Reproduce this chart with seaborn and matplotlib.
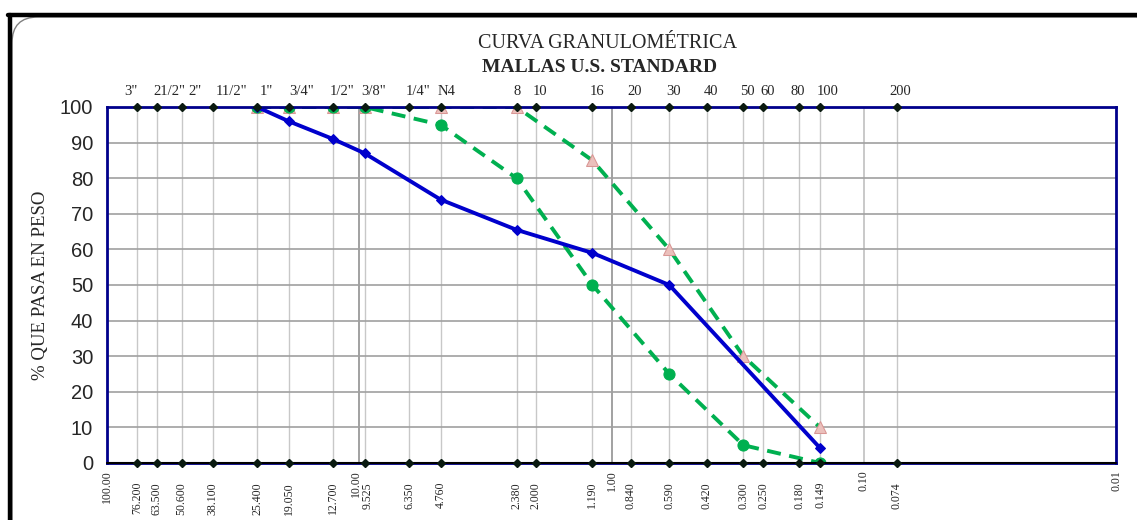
import numpy as np
import pandas as pd
import matplotlib
matplotlib.use("Agg")
import matplotlib.pyplot as plt
import matplotlib.transforms as mtransforms
from matplotlib.patches import FancyBboxPatch
from matplotlib.lines import Line2D
import seaborn as sns

# Sieve openings (mm) and their U.S. Standard names
sieve_mm = [76.2, 63.5, 50.6, 38.1, 25.4, 19.05, 12.7, 9.525, 6.35, 4.76,
            2.38, 2.0, 1.19, 0.84, 0.59, 0.42, 0.30, 0.25, 0.18, 0.149, 0.074]
sieve_names = ['3"', '21/2"', '2"', '11/2"', '1"', '3/4"', '1/2"', '3/8"', '1/4"', 'N4',
               '8', '10', '16', '20', '30', '40', '50', '60', '80', '100', '200']
sieve_ticklabels = ["76.200", "63.500", "50.600", "38.100", "25.400", "19.050", "12.700",
                    "9.525", "6.350", "4.760", "2.380", "2.000", "1.190", "0.840", "0.590",
                    "0.420", "0.300", "0.250", "0.180", "0.149", "0.074"]
decades = [100, 10, 1, 0.1, 0.01]
decade_labels = ["100.00", "10.00", "1.00", "0.10", "0.01"]

# Sample gradation
muestra_mm = [25.4, 19.05, 12.7, 9.525, 4.76, 2.38, 1.19, 0.59, 0.149]
muestra_pasa = [100, 96, 91, 87, 74, 65.5, 59, 50, 4.2]

# Specification band
limite_mm = [25.4, 19.05, 12.7, 9.525, 4.76, 2.38, 1.19, 0.59, 0.30, 0.149]
limite_inf = [100, 100, 100, 100, 95, 80, 50, 25, 5, 0]
limite_sup = [100, 100, 100, 100, 100, 100, 85, 60, 30, 10]

# horizontal nudges (pixels) for a few crowded labels
name_nudge = {'3"': -10, '2"': 10, '11/2"': 6, '1"': 6, '3/4"': 4, '80': -6, '200': -4}
size_nudge = {"10.00": -3, "9.525": 3}

sns.set_theme(style="white")
plt.rcParams["font.family"] = ["Liberation Serif", "DejaVu Serif"]

W, H = 1137, 520
fig = plt.figure(figsize=(W / 100, H / 100), dpi=100)
ax = fig.add_axes([107 / W, 1 - 463 / H, (1116 - 107) / W, (463 - 107) / H])

ax.set_xscale("log")
ax.set_xlim(100, 0.01)
ax.set_ylim(0, 100)

# grid
for x in sieve_mm:
    ax.axvline(x, color="#c8c8c8", lw=1.0, zorder=1)
for x in decades[1:3]:
    ax.axvline(x, color="#9a9a9a", lw=1.3, zorder=1)
ax.axvline(decades[3], color="#c0c0c0", lw=1.2, zorder=1)
for y in range(10, 100, 10):
    ax.axhline(y, color="#a0a0a0", lw=1.2, zorder=1)

green = "#00B050"
blue = "#0000CC"

df_inf = pd.DataFrame({"mm": limite_mm, "pasa": limite_inf})
df_sup = pd.DataFrame({"mm": limite_mm, "pasa": limite_sup})
df_mue = pd.DataFrame({"mm": muestra_mm, "pasa": muestra_pasa})

sns.lineplot(data=df_sup, x="mm", y="pasa", ax=ax, sort=False, estimator=None,
             color=green, lw=2.8, marker="^", markersize=9,
             markerfacecolor="#EBC0BC", markeredgecolor="#D99694", zorder=3)
ax.lines[-1].set_dashes((3.6, 2.2))
sns.lineplot(data=df_inf, x="mm", y="pasa", ax=ax, sort=False, estimator=None,
             color=green, lw=2.8, marker="o", markersize=8,
             markerfacecolor=green, markeredgecolor=green, zorder=3)
ax.lines[-1].set_dashes((3.6, 2.2))
sns.lineplot(data=df_mue, x="mm", y="pasa", ax=ax, sort=False, estimator=None,
             color=blue, lw=2.8, marker="D", markersize=5,
             markerfacecolor=blue, markeredgecolor=blue, zorder=4)

# sieve markers along the top and bottom edges
ax.plot([100, 0.01], [0, 0], color="black", lw=1.5, zorder=5, clip_on=False)
ax.plot(sieve_mm, [100] * len(sieve_mm), ls="none", marker="D", ms=4.5,
        color="#0a1a10", zorder=6, clip_on=False)
ax.plot(sieve_mm, [0] * len(sieve_mm), ls="none", marker="D", ms=4.5,
        color="#0a1a10", zorder=6, clip_on=False)

for side in ["left", "right", "top", "bottom"]:
    ax.spines[side].set_color("#00008B")
    ax.spines[side].set_linewidth(2)
    ax.spines[side].set_zorder(4)

ax.set_xticks([])
ax.set_xticks([], minor=True)
ax.set_yticks(range(0, 101, 10))
ax.tick_params(axis="y", length=0, pad=10, labelsize=14.5)
for t in ax.get_yticklabels():
    t.set_fontfamily("Liberation Sans")
ax.set_xlabel("")
ax.set_ylabel("% QUE PASA EN PESO", fontsize=13.5)
ax.yaxis.set_label_coords(-0.057, 0.5)

# sieve names above the plot
for x, name in zip(sieve_mm, sieve_names):
    tr = mtransforms.offset_copy(ax.transData, fig=fig, x=-3 + name_nudge.get(name, 0),
                                 y=9, units="dots")
    ax.text(x, 100, name, transform=tr, ha="left", va="bottom",
            fontsize=10.5, clip_on=False)

# opening sizes below the plot
for x, lab in zip(sieve_mm, sieve_ticklabels):
    tr = mtransforms.offset_copy(ax.transData, fig=fig, x=size_nudge.get(lab, 0),
                                 y=-19, units="dots")
    ax.text(x, 0, lab, transform=tr, ha="center", va="top", rotation=90,
            fontsize=8.5, clip_on=False)
for x, lab in zip(decades, decade_labels):
    tr = mtransforms.offset_copy(ax.transData, fig=fig, x=size_nudge.get(lab, 0),
                                 y=-7, units="dots")
    ax.text(x, 0, lab, transform=tr, ha="center", va="top", rotation=90,
            fontsize=8.5, clip_on=False)

fig.text(608 / W, 1 - 44 / H, "CURVA GRANULOMÉTRICA", ha="center", va="center",
         fontsize=14.5)
fig.text(600 / W, 1 - 68 / H, "MALLAS U.S. STANDARD", ha="center", va="center",
         fontsize=14, fontweight="bold")

# chart border
box = FancyBboxPatch((0.12, -0.5), 11.5, 5.53, boxstyle="round,pad=0,rounding_size=0.26",
                     transform=fig.dpi_scale_trans, fill=False, edgecolor="#808080",
                     lw=1.0, zorder=0)
fig.patches.append(box)
fig.lines.append(Line2D([8 / W, 1], [1 - 15 / H, 1 - 15 / H], transform=fig.transFigure,
                        color="black", lw=3.2))
fig.lines.append(Line2D([9.5 / W, 9.5 / W], [0, 1 - 15 / H], transform=fig.transFigure,
                        color="black", lw=3.2))

fig.savefig("out.png", dpi=100)
